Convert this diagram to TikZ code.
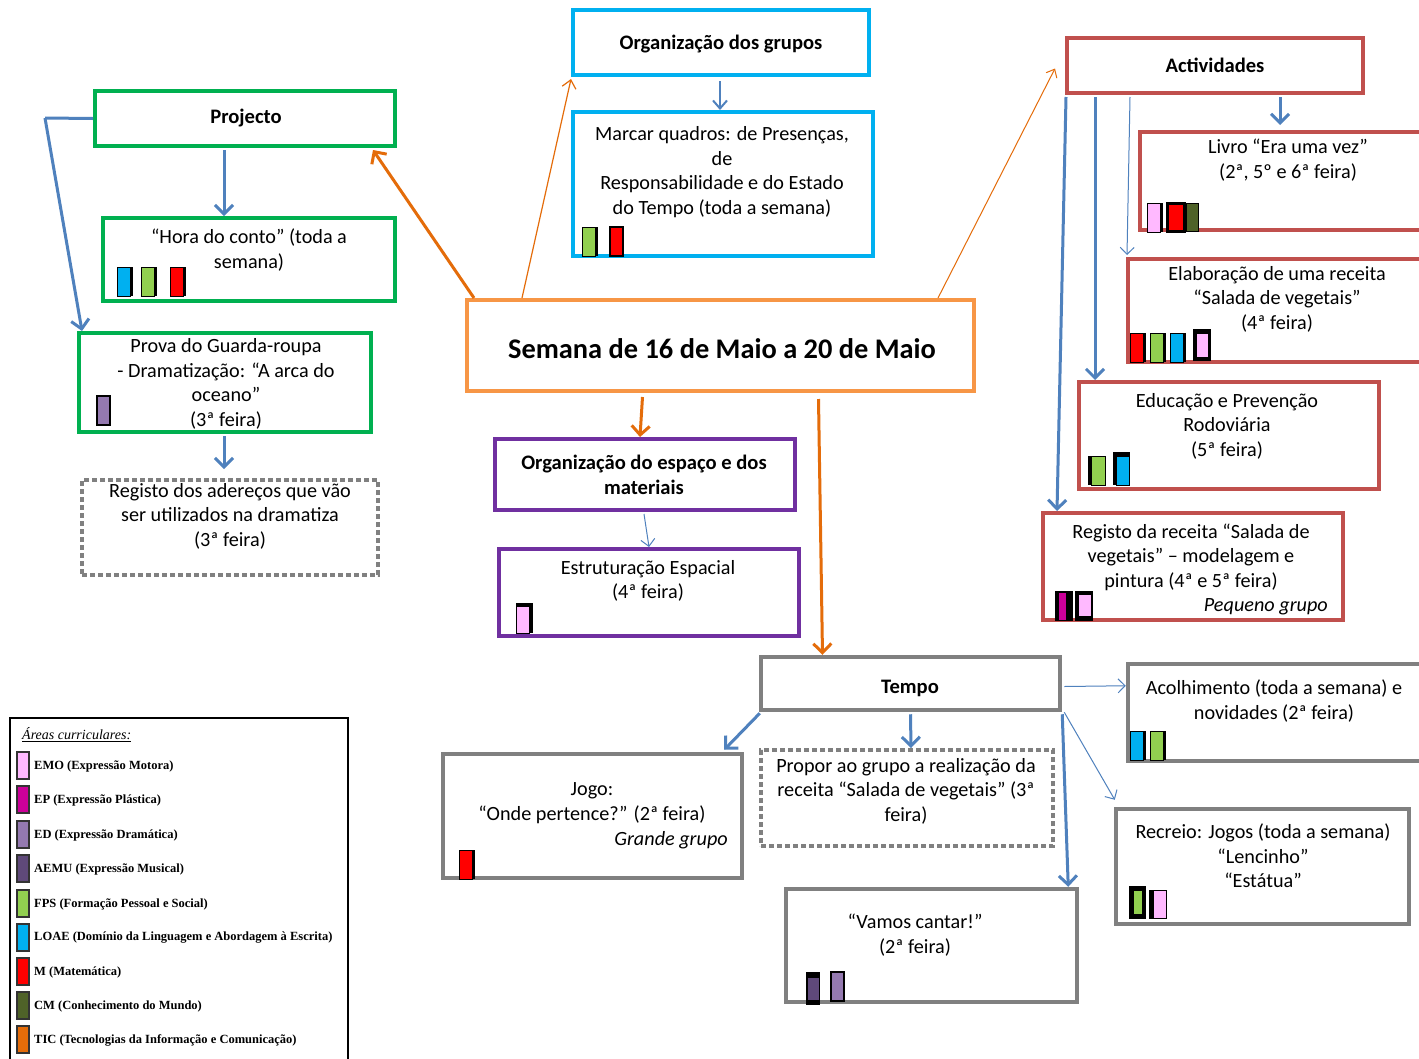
\documentclass[tikz,border=0pt]{standalone}
\usepackage{fontspec}
\setmainfont{Carlito}
\newfontfamily\legfont{Liberation Serif}
\usetikzlibrary{arrows.meta,calc}
\definecolor{cyanb}{RGB}{0,176,240}
\definecolor{greenb}{RGB}{0,176,80}
\definecolor{orangeb}{RGB}{247,150,70}
\definecolor{purpleb}{RGB}{112,48,160}
\definecolor{redb}{RGB}{192,80,77}
\definecolor{grayb}{RGB}{128,128,128}
\definecolor{bluel}{RGB}{79,129,189}
\definecolor{orangel}{RGB}{228,108,10}
\definecolor{cEMO}{RGB}{255,185,255}
\definecolor{cEP}{RGB}{204,0,153}
\definecolor{cED}{RGB}{148,121,176}
\definecolor{cAEMU}{RGB}{95,73,122}
\definecolor{cFPS}{RGB}{146,208,80}
\definecolor{cLOAE}{RGB}{0,176,240}
\definecolor{cM}{RGB}{255,0,0}
\definecolor{cCM}{RGB}{79,98,40}
\definecolor{cTIC}{RGB}{228,108,10}
\newcommand\mybox[6]{\node[#2, minimum width={#5-#3-4}, minimum height={#6-#4-4}] (#1) at ({(#3+#5)/2},{(#4+#6)/2}) {};}
\newcommand\sqs[3]{\fill[black] (#1+3,#2) rectangle (#1+16,#2+29); \filldraw[fill=#3,draw=black,line width=1] (#1,#2) rectangle (#1+13,#2+29);}
\newcommand\sqn[3]{\filldraw[fill=#3,draw=black,line width=1.5] (#1,#2) rectangle (#1+13,#2+29);}
\newcommand\legitem[4]{\filldraw[fill=#3,draw=black!80,line width=1.5] (17,#1) rectangle (29,#1+27); \node[legtxt] (#4) at (34,#1+14) {#2};}
\begin{document}
\begin{tikzpicture}[x=1pt,y=-1pt,
  bx/.style={draw, line width=4, inner sep=0, rectangle},
  cbox/.style={bx, draw=cyanb},
  gbox/.style={bx, draw=greenb},
  obox/.style={bx, draw=orangeb},
  pbox/.style={bx, draw=purpleb},
  rbox/.style={bx, draw=redb},
  grbox/.style={bx, draw=grayb, line width=4.5},
  dbox/.style={bx, draw=grayb, dash pattern=on 5pt off 3pt},
  txt/.style={align=center, inner sep=0, font=\fontsize{20.2}{24.5}\selectfont},
  ttl/.style={align=center, inner sep=0, font=\fontsize{20.6}{25}\selectfont\bfseries},
  legtxt/.style={anchor=west, inner sep=0, font=\legfont\bfseries\fontsize{12.5}{14}\selectfont},
  ab/.style={draw=bluel, line width=3, -{Straight Barb[length=9pt,width=18pt]}},
  abt/.style={draw=bluel, line width=1, -{Straight Barb[length=7pt,width=14pt]}},
  ob/.style={draw=orangel, line width=3, -{Straight Barb[length=9pt,width=18pt]}},
  obt/.style={draw=orangel, line width=1.2, -{Straight Barb[length=8pt,width=14pt]}},
]
\useasboundingbox (0,0) rectangle (1419,1058);
\fill[white] (0,0) rectangle (1419,1058);

% boxes
\mybox{org}{cbox}{571}{8}{871}{77}
\mybox{marcar}{cbox}{571}{110}{875}{258}
\mybox{proj}{gbox}{93}{89}{397}{148}
\mybox{hora}{gbox}{101}{216}{397}{303}
\mybox{prova}{gbox}{77}{331}{373}{434}
\mybox{reg1}{dbox}{80}{478}{380}{577}
\mybox{cen}{obox}{465}{298}{976}{393}
\mybox{oesp}{pbox}{493}{437}{797}{512}
\mybox{estr}{pbox}{497}{547}{801}{638}
\mybox{act}{rbox}{1065}{36}{1365}{95}
\mybox{livro}{rbox}{1138}{130}{1450}{232}
\mybox{elab}{rbox}{1126}{257}{1450}{364}
\mybox{edu}{rbox}{1077}{380}{1381}{491}
\mybox{reg2}{rbox}{1041}{511}{1345}{622}
\mybox{tempo}{grbox}{759}{655}{1062}{712}
\mybox{jogo}{grbox}{441}{752}{744}{880}
\mybox{propor}{dbox}{759}{748}{1055}{848}
\mybox{vamos}{grbox}{784}{887}{1079}{1004}
\mybox{acolh}{grbox}{1126}{662}{1450}{763}
\mybox{recr}{grbox}{1114}{807}{1411}{926}
\node[draw=black, line width=2.5, inner sep=0, minimum width=338, minimum height=370] (leg) at (179,903) {};

% texts
\node[ttl] (torg) at (721,44) {Organização dos grupos};
\node[txt] (tmarc) at (722,172) {Marcar quadros: de Presenças,\\de\\Responsabilidade e do Estado\\do Tempo (toda a semana)};
\node[ttl] (tproj) at (246,118) {Projecto};
\node[txt] (thora) at (249,250) {“Hora do conto” (toda a\\semana)};
\node[txt] (tprova) at (226,384) {Prova do Guarda-roupa\\- Dramatização: “A arca do\\oceano”\\(3ª feira)};
\node[txt] (treg1) at (230,516) {Registo dos adereços que vão\\ser utilizados na dramatiza\\(3ª feira)};
\node[align=center, inner sep=0, font=\fontsize{28.4}{32}\selectfont\bfseries] (tcen) at (722,349) {Semana de 16 de Maio a 20 de Maio};
\node[ttl] (toesp) at (644,475) {Organização do espaço e dos\\materiais};
\node[txt] (testr) at (648,581) {Estruturação Espacial\\(4ª feira)};
\node[ttl] (tact) at (1215,65) {Actividades};
\node[txt] (tlivro) at (1288,160) {Livro “Era uma vez”\\(2ª, 5º e 6ª feira)};
\node[txt] (telab) at (1277,299) {Elaboração de uma receita\\“Salada de vegetais”\\(4ª feira)};
\node[txt] (tedu) at (1227,426) {Educação e Prevenção\\Rodoviária\\(5ª feira)};
\node[txt] (treg2) at (1191,557) {Registo da receita “Salada de\\vegetais” – modelagem e\\pintura (4ª e 5ª feira)};
\node[txt, anchor=east, font=\fontsize{20.2}{24.5}\selectfont\itshape] (tpeq) at (1328,607) {Pequeno grupo};
\node[ttl] (ttempo) at (910,688) {Tempo};
\node[txt] (tjogo) at (592,803) {Jogo:\\“Onde pertence?” (2ª feira)};
\node[txt, anchor=east, font=\fontsize{20.2}{24.5}\selectfont\itshape] (tgr) at (728,840) {Grande grupo};
\node[txt] (tprop) at (906,791) {Propor ao grupo a realização da\\receita “Salada de vegetais” (3ª\\feira)};
\node[txt] (tvam) at (915,935) {“Vamos cantar!”\\(2ª feira)};
\node[txt] (tacol) at (1274,701) {Acolhimento (toda a semana) e\\novidades (2ª feira)};
\node[txt] (trecr) at (1263,856) {Recreio: Jogos (toda a semana)\\“Lencinho”\\“Estátua”};

% legend
\node[anchor=west, inner sep=0, font=\legfont\itshape\fontsize{14}{15}\selectfont] (legt) at (22,735) {\underline{Áreas curriculares:}};
\legitem{752}{EMO (Expressão Motora)}{cEMO}{l1}
\legitem{786}{EP (Expressão Plástica)}{cEP}{l2}
\legitem{821}{ED (Expressão Dramática)}{cED}{l3}
\legitem{855}{AEMU (Expressão Musical)}{cAEMU}{l4}
\legitem{890}{FPS (Formação Pessoal e Social)}{cFPS}{l5}
\legitem{924}{LOAE (Domínio da Linguagem e Abordagem à Escrita)}{cLOAE}{l6}
\legitem{958}{M (Matemática)}{cM}{l7}
\legitem{992}{CM (Conhecimento do Mundo)}{cCM}{l8}
\legitem{1026}{TIC (Tecnologias da Informação e Comunicação)}{cTIC}{l9}

% squares
\sqs{117}{267}{cLOAE}\sqs{141}{267}{cFPS}\sqs{170}{267}{cM}
\sqn{97}{396}{cED}
\sqs{582}{227}{cFPS}\sqn{610}{227}{cM}
\fill[black] (516,603) rectangle (533,633); \filldraw[fill=cEMO,draw=black,line width=1] (516,606) rectangle (529,633);
\sqs{1147}{203}{cEMO}\filldraw[fill=cM,draw=black,line width=3] (1167,203) rectangle (1184,231);\filldraw[fill=cCM,draw=black,line width=1] (1186,203) rectangle (1198,231);
\sqs{1130}{333}{cM}\sqs{1150}{333}{cFPS}\sqs{1170}{333}{cLOAE}\fill[black] (1193,329) rectangle (1211,361); \filldraw[fill=cEMO,draw=black,line width=1] (1196,333) rectangle (1208,357);
\fill[black](1088,456) rectangle (1092,485); \filldraw[fill=cFPS,draw=black,line width=1] (1091,456) rectangle (1105,485);
\fill[black](1113,452) rectangle (1130,485); \filldraw[fill=cLOAE,draw=black,line width=1] (1116,456) rectangle (1129,485);
\fill[black](1055,591) rectangle (1073,621); \filldraw[fill=cEP,draw=black,line width=1] (1058,592) rectangle (1066,620);
\fill[black](1075,591) rectangle (1093,621); \filldraw[fill=cEMO,draw=black,line width=1] (1078,594) rectangle (1091,616);
\sqs{459}{850}{cM}
\fill[black] (806,972) rectangle (820,1005); \filldraw[fill=cAEMU,draw=black,line width=1] (807,977) rectangle (819,1000);
\sqn{831}{972}{cED}
\sqs{1130}{731}{cLOAE}\sqs{1150}{731}{cFPS}
\fill[black](1129,886) rectangle (1146,919); \filldraw[fill=cFPS,draw=black,line width=1] (1133,890) rectangle (1142,914);
\fill[black](1149,890) rectangle (1153,919); \filldraw[fill=cEMO,draw=black,line width=1] (1153,890) rectangle (1166,918);

% connectors
\coordinate (pk) at (45,118);
\draw[draw=bluel, line width=3] (proj.west) -- (pk);
\draw[ab] (pk) -- ($(prova.north west)+(5,0)$);
\draw[ab] ($(proj.south)+(-21,2)$) -- ($(hora.north)+(-25,0)$);
\draw[ab] ($(prova.south)+(-1,2)$) -- ($(reg1.north)+(-6,-9)$);
\draw[ob] ($(cen.north west)+(9,0)$) -- ($(proj.south east)+(-24,2)$);
\draw[obt] ($(cen.north west)+(57,0)$) -- ($(org.south west)+(0,2)$);
\draw[draw=orangel, line width=1, -{Straight Barb[length=7pt,width=12pt]}] ($(cen.north east)+(-38,0)$) -- ($(act.west)+(-10,3)$);
\draw[ob] ($(cen.south)+(-78,4)$) -- ($(oesp.north)+(-5,0)$);
\draw[ob] ($(cen.south)+(98,6)$) -- ($(tempo.north)+(-88,0)$);
\draw[draw=bluel, line width=2, -{Straight Barb[length=8pt,width=14pt]}] ($(org.south)+(-1,4)$) -- ($(marcar.north)+(-3,0)$);
\draw[abt] ($(oesp.south)+(-1,2)$) -- (estr.north);
\draw[ab] ($(act.south)+(65,2)$) -- ($(livro.north west)+(142,-5)$);
\draw[ab] ($(act.south west)+(1,2)$) -- ($(reg2.north west)+(16,0)$);
\draw[ab] ($(act.south west)+(30,2)$) -- ($(edu.north west)+(18,0)$);
\draw[abt] ($(act.south west)+(65,2)$) -- ($(elab.north west)+(1,-2)$);
\draw[ab] ($(tempo.south west)+(1,1)$) -- ($(jogo.north east)+(-20,-2)$);
\draw[ab] ($(tempo.south)+(0,2)$) -- ($(propor.north)+(4,0)$);
\draw[ab] ($(tempo.south east)+(0,2)$) -- ($(vamos.north east)+(-11,0)$);
\draw[abt] ($(tempo.east)+(2,3)$) -- ($(acolh.north west)+(0,24)$);
\draw[abt] ($(tempo.south east)+(2,0)$) -- ($(recr.north west)+(1,-7)$);
\end{tikzpicture}
\end{document}
